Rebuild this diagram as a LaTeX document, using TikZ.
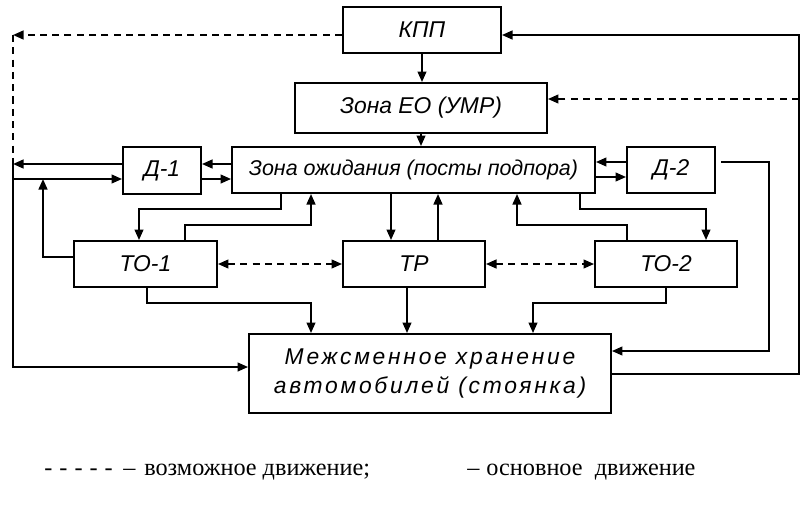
\documentclass[tikz,border=0pt]{standalone}
\usepackage{fontspec}
\setmainfont{Liberation Sans}
\newfontfamily\legendfont{Liberation Serif}
\newfontfamily\spacedfont[LetterSpace=12]{Liberation Sans}
\usetikzlibrary{arrows.meta}

\begin{document}
\begin{tikzpicture}[x=0.02cm, y=-0.02cm,
	>={Triangle[length=6pt, width=5pt]},
	blk/.style={rectangle, draw=black, line width=1.1pt, fill=white, inner sep=0pt, font=\fontsize{13}{15}\selectfont\itshape},
	arr/.style={->, line width=1.1pt},
	dsh/.style={line width=1.1pt, dash pattern=on 4pt off 3pt},
	lgd/.style={inner sep=0pt, font=\fontsize{13.8}{15}\selectfont\legendfont},
	]
	\useasboundingbox (0,0) rectangle (810,504);
	
	%Nodes
	\node[blk, minimum width=3.16cm, minimum height=0.92cm]	(kpp)	at (422,30)		{КПП};
	\node[blk, minimum width=5.04cm, minimum height=1.0cm]	(eo)	at (421,108)	{Зона ЕО (УМР)};
	\node[blk, minimum width=7.26cm, minimum height=0.92cm, font=\fontsize{12.2}{14}\selectfont\itshape]	(wait)	at (413.5,170)	{Зона ожидания (посты подпора)};
	\node[blk, minimum width=1.56cm, minimum height=0.94cm]	(d1)	at (162,170.5)	{Д-1};
	\node[blk, minimum width=1.76cm, minimum height=0.92cm]	(d2)	at (671,170)	{Д-2};
	\node[blk, minimum width=2.86cm, minimum height=0.92cm]	(to1)	at (145.5,264)	{ТО-1};
	\node[blk, minimum width=2.84cm, minimum height=0.92cm]	(tr)	at (414,264)	{ТР};
	\node[blk, minimum width=2.84cm, minimum height=0.92cm]	(to2)	at (666,264)	{ТО-2};
	\node[blk, minimum width=7.24cm, minimum height=1.58cm, align=center, font=\fontsize{13}{16.5}\selectfont\spacedfont\itshape] (store) at (430,373.5) {Межсменное хранение\\автомобилей (стоянка)};
	
	\node[lgd, anchor=west]	(lg1)	at (44,472)		{-\hskip4pt-\hskip4pt-\hskip4pt-\hskip4pt-\hskip6pt–\hskip5pt возможное движение;};
	\node[lgd, anchor=west]	(lg2)	at (467,472)	{–\hskip4pt основное\ \ движение};
	
	%Corners
	\coordinate (lt) at (13,35);
	\coordinate (rt) at (799,35);
	\coordinate (lj) at (13,164);
	\coordinate (lb) at (13,179);
	
	%Lines
	\draw[arr] (kpp.south) -- (kpp.south |- eo.north);
	\draw[arr] (eo.south) -- (eo.south |- wait.north);
	
	\draw[dsh, ->] (kpp.west |- lt) -- (lt);
	\draw[dsh] (lt) -- (lj);
	\draw[arr] (d1.west |- lj) -- (lj);
	\draw[arr] (lj) |- (store.west |- 0,367);
	\draw[arr] (lb) -- (d1.west |- lb);
	\draw[arr] (to1.west |- 0,257) -| (43,179);
	
	\draw[arr] (wait.west |- 0,164) -- (d1.east |- 0,164);
	\draw[arr] (d1.east |- 0,179) -- (wait.west |- 0,179);
	\draw[arr] (d2.west |- 0,162) -- (wait.east |- 0,162);
	\draw[arr] (wait.east |- 0,177) -- (d2.west |- 0,177);
	
	\draw[arr, shorten <=3pt] (d2.east |- 0,162) -| (769,351) -- (store.east |- 0,351);
	\draw[arr] (store.east |- 0,374) -| (rt) -- (kpp.east |- rt);
	\draw[dsh, ->] (799,99) -- (eo.east |- 0,99);
	
	\draw[arr] (wait.south -| 281,0) |- (139,209) -- (to1.north -| 139,0);
	\draw[arr] (to1.north -| 185,0) |- (311,225) -- (wait.south -| 311,0);
	\draw[arr] (wait.south -| 391,0) -- (tr.north -| 391,0);
	\draw[arr] (tr.north -| 438,0) -- (wait.south -| 438,0);
	\draw[arr] (to2.north -| 627,0) |- (517,225) -- (wait.south -| 517,0);
	\draw[arr] (wait.south -| 580,0) |- (706,209) -- (to2.north -| 706,0);
	
	\draw[arr] (to1.south -| 147,0) |- (311,303) -- (store.north -| 311,0);
	\draw[arr] (tr.south -| 407,0) -- (store.north -| 407,0);
	\draw[arr] (to2.south -| 666,0) |- (533,303) -- (store.north -| 533,0);
	
	\draw[dsh, <->] (to1) -- (tr);
	\draw[dsh, <->] (tr) -- (to2);
\end{tikzpicture}
\end{document}
